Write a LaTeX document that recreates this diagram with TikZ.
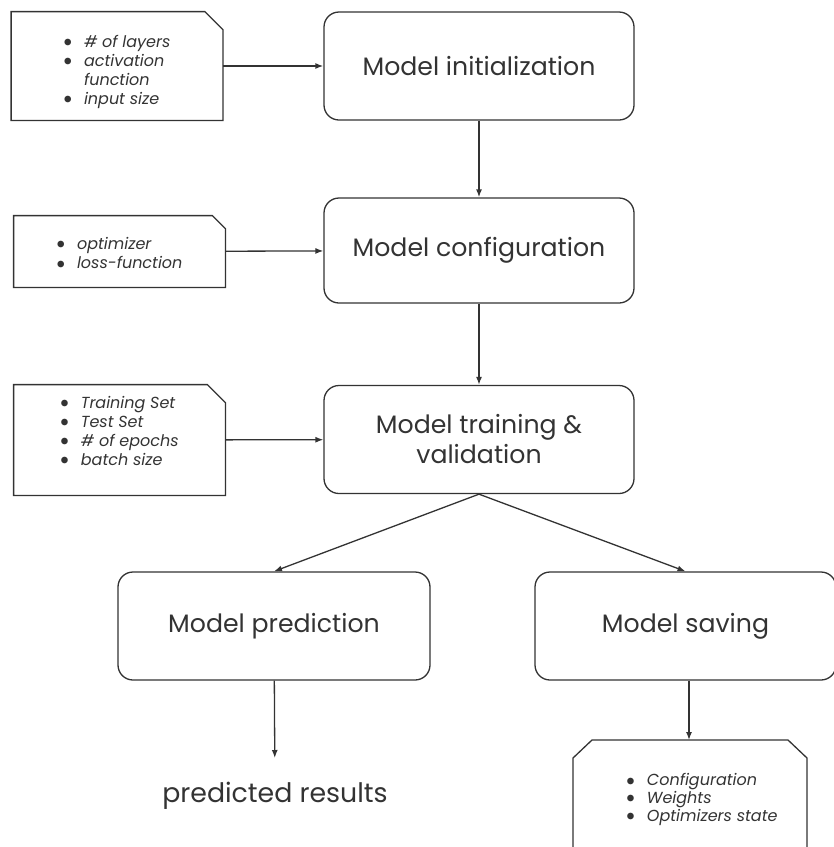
\documentclass[tikz,border=0pt]{standalone}
\usepackage{fontspec}
\setmainfont{Poppins}
\usetikzlibrary{arrows.meta}

\definecolor{ink}{HTML}{333333}

% bulleted list used inside the side notes, #1 = vertical nudge
\newcommand{\bul}{\raisebox{0.1ex}{$\bullet$} &}
\newcommand{\notelist}[2][-2pt]{\raisebox{#1}[0pt][0pt]{%
  \begin{tabular}{@{}l@{\hspace{6pt}}l@{}}#2\end{tabular}}}

% note frame with a clipped upper right corner
\newcommand{\memoframe}[2]{%
  \draw[ink, line width=0.65pt] (#1.south west) -- (#1.north west)
    -- ([xshift=-#2]#1.north east) -- ([yshift=-#2]#1.north east)
    -- (#1.south east) -- cycle;}

\tikzset{
  stage/.style={draw=ink, line width=0.65pt, rounded corners=7.5pt,
    minimum width=155pt, minimum height=54pt, align=center, text=ink,
    font=\fontsize{12.6}{15}\selectfont},
  memo/.style={minimum width=105.5pt, text=ink, font=\fontsize{8}{9.6}\selectfont},
  flow/.style={draw=ink, line width=0.65pt, -{Latex[length=4pt,width=3pt]}},
}

\begin{document}
\begin{tikzpicture}[x=0.5pt, y=-0.5pt]
\useasboundingbox (0,0) rectangle (834,847);

% stages
\node[stage] (init) at (479,66) {Model initialization};
\node[stage, minimum height=52.5pt] (config) at (479,250.5) {Model configuration};
\node[stage] (train) at (479,439.5) {Model training \&\\validation};
\node[stage, minimum width=156pt] (pred) at (274,626) {Model prediction};
\node[stage, minimum width=150.5pt] (save) at (685.5,626) {Model saving};

% inputs on the left
\node[memo, minimum height=54pt] (layers) at (117,66) {\notelist[-5pt]{
  \bul \textit{\# of layers}\\
  \bul \textit{activation}\\
       & \textit{function}\\
  \bul \textit{input size}}};
\memoframe{layers}{9pt}

\node[memo, minimum height=35.5pt] (optim) at (119.5,251.5) {\notelist[-4pt]{
  \bul \textit{optimizer}\\
  \bul \textit{loss-function}}};
\memoframe{optim}{6.5pt}

\node[memo, minimum height=55pt] (data) at (119.5,440) {\notelist[1.5pt]{
  \bul \textit{Training Set}\\
  \bul \textit{Test Set}\\
  \bul \textit{\# of epochs}\\
  \bul \textit{batch size}}};
\memoframe{data}{9pt}

% outputs
\node[anchor=north, inner ysep=12pt, text=ink, font=\fontsize{13.4}{15}\selectfont]
  (result) at (275,758) {predicted results};

\coordinate (statetop) at (689,740);
\draw[ink, line width=0.65pt] (573,870) -- (573,758) -- (592,740) -- (788,740)
  -- (807,758) -- (807,870);
\node[memo, font=\fontsize{8}{8.8}\selectfont] (state) at (702,800) {\notelist{
  \bul \textit{Configuration}\\
  \bul \textit{Weights}\\
  \bul \textit{Optimizers state}}};

% connectors
\draw[flow] (layers) -- (init);
\draw[flow] (optim) -- (config);
\draw[flow] (data) -- (train);
\draw[flow] (init) -- (config);
\draw[flow] (config) -- (train);
\draw[flow] (train.south) -- (pred.north);
\draw[flow] (train.south) -- (save.north);
\draw[flow] (pred) -- (result);
\draw[flow] (save.south -| statetop) -- (statetop);
\end{tikzpicture}
\end{document}
